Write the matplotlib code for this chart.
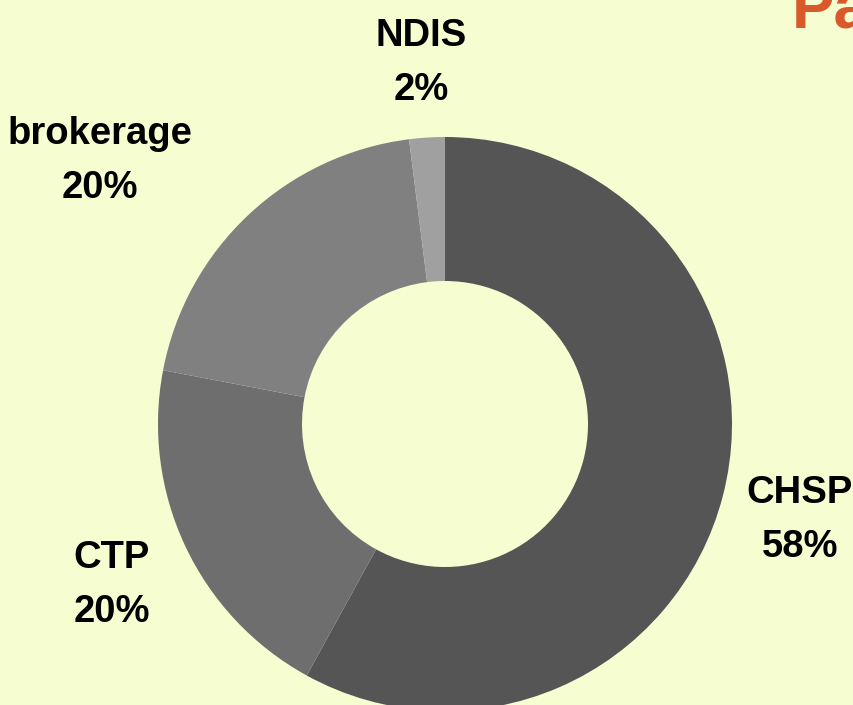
import matplotlib
matplotlib.use('Agg')

import matplotlib.pyplot as plt

categories = ["CHSP", "CTP", "brokerage", "NDIS"]
shares = [58, 20, 20, 2]
colors = ["#555555", "#6e6e6e", "#808080", "#a0a0a0"]

# label anchor points (pixels from top-left)
label_pos = [(800, 520), (112, 585), (100, 161), (421, 63)]

W, H = 854, 705
bg = "#f6fdd0"

fig = plt.figure(figsize=(W / 100, H / 100), dpi=100, facecolor=bg)
ax = fig.add_axes([0, 0, 1, 1])
ax.set_facecolor(bg)

cx, cy, r = 445, H - 424, 287
ax.pie(shares, colors=colors, startangle=90, counterclock=False,
       center=(cx, cy), radius=r, frame=True,
       wedgeprops=dict(width=144, linewidth=0))
ax.set_xlim(0, W)
ax.set_ylim(0, H)
ax.set_aspect('equal')
ax.axis('off')

for name, val, (px, py) in zip(categories, shares, label_pos):
    ax.text(px, H - py, f"{name}\n{val}%", ha='center', va='center',
            fontsize=27.5, fontweight='bold', family='Liberation Sans',
            linespacing=1.66, color='black')

# title partly outside the visible area
ax.text(792, H - 28, "Pa", ha='left', va='baseline', fontsize=46,
        fontweight='bold', family='Liberation Sans', color='#d9592a')

fig.savefig("out.png", dpi=100, facecolor=bg)
